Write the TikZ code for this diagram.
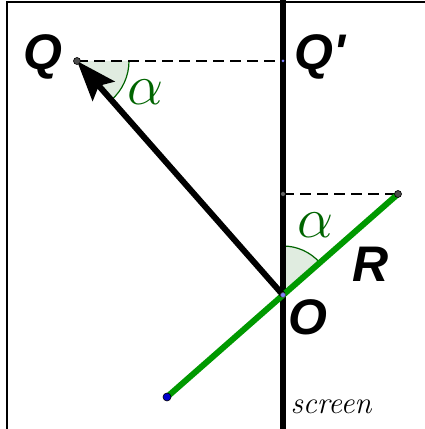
\documentclass[tikz,border=0pt]{standalone}
\usepackage{fontspec}
\usepackage{xcolor}
\usepackage{graphicx}
\usepackage{tikz}
\usetikzlibrary{arrows.meta, positioning}
\newfontfamily\ptfont{Liberation Sans}
\definecolor{lensgreen}{RGB}{0,153,0}
\definecolor{anglegreen}{RGB}{0,100,0}
\newcommand{\bigalpha}{\scalebox{2.3}{\fontsize{24.88}{25}\selectfont$\alpha$}}

\begin{document}
\begin{tikzpicture}[x=1pt, y=1pt,
    ptlabel/.style={font=\ptfont\bfseries\itshape\fontsize{50}{50}\selectfont, inner sep=0pt, anchor=base},
    anglabel/.style={text=anglegreen, inner sep=0pt},
    arr/.style={-{Stealth[length=40pt, width=29pt, inset=7pt]}, line width=6pt},
    hline/.style={line width=2.5pt, dash pattern=on 11pt off 6pt},
    ptdot/.style={circle, draw=black, fill=black!70, line width=0.6pt, inner sep=0pt, minimum size=7pt},
    sector/.style={fill=anglegreen!12}
]
\useasboundingbox (0,0) rectangle (425,429);
\draw[line width=1.8pt] (7,0) -- (7,427) -- (425,427);

\coordinate (q)   at (77,368);
\coordinate (qp)  at (283,368);
\coordinate (o)   at (283,134);
\coordinate (r)   at (398,235);
\coordinate (rs)  at (283,235);
\coordinate (s)   at (167,32);
\coordinate (top) at (283,429);
\coordinate (bot) at (283,0);

\fill[sector] (q) -- ++(0:52) arc[start angle=0, end angle=-48.6, radius=52] -- cycle;
\draw[anglegreen, line width=1.2pt] (q) ++(0:52) arc[start angle=0, end angle=-48.6, radius=52];
\fill[sector] (o) -- ++(90:49) arc[start angle=90, end angle=41.3, radius=49] -- cycle;
\draw[anglegreen, line width=1.2pt] (o) ++(90:49) arc[start angle=90, end angle=41.3, radius=49];

\draw[line width=6pt] (top) -- (bot);
\draw[hline] (q) -- (qp);
\draw[hline] (rs) -- (r);
\draw[line width=6pt, lensgreen] (s) -- (r);
\draw[arr] (o) -- (q);

\node[ptdot] (qdot) at (q) {};
\node[ptdot, minimum size=5pt, fill=black!60] (rsdot) at (rs) {};
\node[ptdot] (rdot) at (r) {};
\node[ptdot, draw=black!70, fill=blue!50, minimum size=5pt] (odot) at (o) {};
\node[ptdot, draw=none, fill=blue!50, minimum size=3pt] (qpdot) at (qp) {};
\node[ptdot, fill=blue!80!black, minimum size=8pt] (sdot) at (s) {};

\node[ptlabel] (qlbl)  at (43,359)  {Q};
\node[ptlabel] (qplbl) at (320,359) {Q{\char"27}};
\node[ptlabel] (rlbl)  at (371,147) {R};
\node[ptlabel] (olbl)  at (308,94)  {O};
\node[anglabel] (aq) at (146,337) {\bigalpha};
\node[anglabel] (ao) at (315,204) {\bigalpha};
\node[font=\fontsize{31}{31}\selectfont\itshape, inner sep=0pt, anchor=base] (scr) at (331,16) {screen};
\end{tikzpicture}
\end{document}
